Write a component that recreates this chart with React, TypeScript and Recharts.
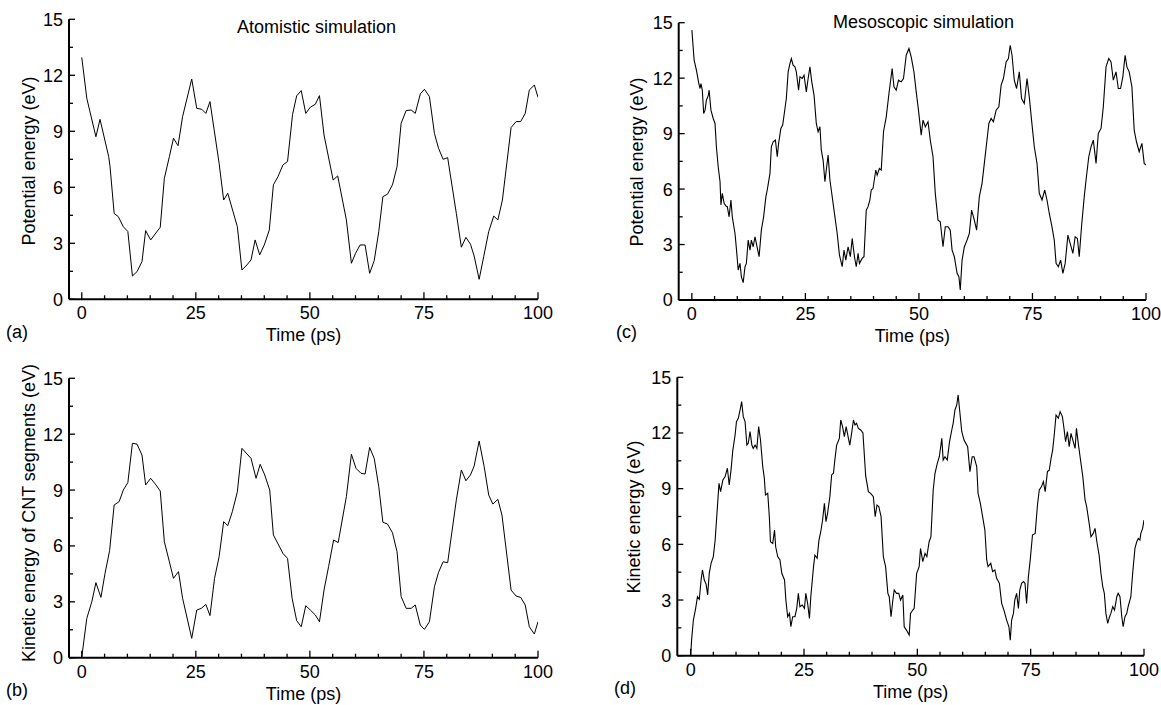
import React from 'react';
import { LineChart, Line, XAxis, YAxis } from 'recharts';

const FONT = '"Liberation Sans", Arial, Helvetica, sans-serif';

// ---------- tick values ----------
const xTicks = [0, 5, 10, 15, 20, 25, 30, 35, 40, 45, 50, 55, 60, 65, 70, 75, 80, 85, 90, 95, 100];
const xMajorTicks = [0, 25, 50, 75, 100];
const yTicks = [0, 1.5, 3, 4.5, 6, 7.5, 9, 10.5, 12, 13.5, 15];
const yMajorTicks = [0, 3, 6, 9, 12, 15];

// ---------- texts ----------
const titleAtomistic = 'Atomistic simulation';
const titleMesoscopic = 'Mesoscopic simulation';
const xLabel = 'Time (ps)';
const yLabelA = 'Potential energy (eV)';
const yLabelB = 'Kinetic energy of CNT segments (eV)';
const yLabelC = 'Potential energy (eV)';
const yLabelD = 'Kinetic energy (eV)';
const panelTags = ['(a)', '(b)', '(c)', '(d)'];

// ---------- (a) atomistic potential energy ----------
const aTime = [
  0, 1.1, 3.1, 4.0, 5.9, 6.2, 7.1, 8.0, 9.1, 10.1,
  11.1, 12.1, 13.2, 14.0, 15.1, 17.2, 18.1, 19.2, 20.1, 21.1,
  22.1, 24.1, 25.2, 26.3, 27.2, 28.1, 30.1, 31.1, 32.0, 34.1,
  35.1, 36.2, 37.1, 38.0, 39.0, 40.0, 41.1, 42.0, 43.0, 44.1,
  45.1, 46.2, 47.1, 48.1, 49.1, 50.1, 51.2, 52.1, 53.1, 55.1,
  56.1, 58.0, 59.1, 60.0, 61.0, 62.1, 63.1, 64.1, 65.1, 66.0,
  67.0, 68.1, 69.1, 70.0, 71.1, 72.2, 73.1, 74.2, 75.1, 76.2,
  77.3, 78.2, 79.2, 80.2, 82.1, 83.2, 84.2, 85.2, 86.0, 87.1,
  88.1, 89.2, 90.3, 91.2, 92.2, 94.1, 95.2, 96.2, 97.2, 98.1,
  99.2, 100,
];
const aPotential = [
  12.96, 10.77, 8.71, 9.64, 7.64, 7.1, 4.6, 4.43, 3.89, 3.63,
  1.25, 1.48, 2.02, 3.68, 3.18, 3.86, 6.48, 7.64, 8.63, 8.23,
  9.79, 11.8, 10.23, 10.18, 9.96, 10.59, 7.29, 5.32, 5.68, 3.89,
  1.57, 1.84, 2.11, 3.18, 2.38, 2.91, 3.71, 6.13, 6.57, 7.2,
  7.38, 9.9, 10.9, 11.18, 9.96, 10.29, 10.45, 10.91, 8.8, 6.39,
  6.61, 4.25, 1.93, 2.46, 2.91, 2.91, 1.39, 2.07, 3.63, 5.5,
  5.63, 6.13, 7.1, 9.43, 10.11, 10.14, 9.96, 11.0, 11.25, 10.86,
  8.89, 8.09, 7.5, 7.59, 4.6, 2.79, 3.32, 2.95, 2.32, 1.07,
  2.29, 3.63, 4.46, 4.25, 5.32, 9.2, 9.52, 9.52, 9.96, 11.21,
  11.48, 10.82,
];

// ---------- (b) atomistic kinetic energy ----------
const bTime = [
  0, 0.2, 1.1, 2.2, 3.1, 4.2, 5.1, 6.1, 7.1, 8.2,
  9.1, 10.1, 11.1, 12.1, 13.2, 14.0, 15.1, 16.1, 17.2, 18.1,
  19.2, 20.1, 21.2, 22.1, 24.1, 25.2, 26.2, 27.2, 28.1, 29.1,
  30.1, 31.1, 32.0, 33.0, 34.1, 35.1, 37.1, 38.2, 39.1, 40.1,
  41.2, 42.0, 44.1, 45.1, 46.1, 47.1, 48.1, 49.1, 50.1, 51.2,
  52.1, 53.1, 54.1, 55.2, 56.2, 58.0, 59.1, 60.1, 61.2, 62.1,
  63.1, 64.1, 65.1, 66.0, 67.0, 68.1, 69.1, 70.0, 71.1, 72.2,
  73.1, 74.2, 75.1, 76.2, 77.3, 78.2, 79.2, 80.2, 82.1, 83.2,
  84.2, 85.2, 86.0, 87.1, 88.2, 89.2, 90.1, 91.2, 92.1, 94.1,
  95.2, 96.2, 97.2, 98.1, 99.2, 100,
];
const bKinetic = [
  0, 0.41, 2.11, 3.0, 4.03, 3.24, 4.53, 5.75, 8.2, 8.38,
  9.0, 9.4, 11.51, 11.47, 10.88, 9.27, 9.63, 9.33, 8.95, 6.23,
  5.15, 4.26, 4.62, 3.19, 1.04, 2.56, 2.65, 2.86, 2.26, 4.26,
  5.42, 7.3, 7.09, 7.84, 8.91, 11.24, 10.7, 9.63, 10.38, 9.81,
  9.0, 6.59, 5.6, 5.33, 3.19, 1.99, 1.66, 2.79, 2.56, 2.29,
  1.93, 3.63, 4.89, 6.32, 6.18, 8.65, 10.92, 10.17, 9.9, 9.86,
  11.29, 10.7, 9.18, 7.27, 7.18, 6.71, 5.69, 3.28, 2.65, 2.65,
  2.83, 1.75, 1.52, 1.93, 3.81, 4.58, 5.15, 5.1, 8.47, 10.08,
  9.5, 9.81, 10.29, 11.63, 10.26, 8.73, 8.25, 8.5, 7.66, 3.63,
  3.31, 3.24, 2.83, 1.66, 1.27, 1.93,
];

// ---------- (c) mesoscopic potential energy ----------
const cTime = [
  0, 0.5, 1.0, 1.5, 1.8, 2.0, 2.3, 2.6, 2.9, 3.2,
  3.6, 3.8, 4.2, 4.7, 5.1, 5.4, 5.8, 6.2, 6.4, 6.7,
  7.1, 7.5, 7.8, 8.2, 8.6, 8.9, 9.5, 9.8, 10.2, 10.6,
  10.9, 11.3, 11.7, 12.0, 12.4, 12.8, 13.1, 13.5, 13.9, 14.2,
  14.8, 15.3, 15.8, 16.3, 16.6, 17.2, 17.5, 17.9, 18.4, 18.8,
  19.1, 19.6, 20.0, 20.5, 20.8, 21.2, 21.6, 21.9, 22.3, 22.7,
  23.0, 23.5, 23.8, 24.3, 24.7, 25.2, 25.6, 26.0, 26.4, 26.9,
  27.4, 27.8, 28.2, 28.5, 28.9, 29.3, 29.6, 30.0, 30.4, 30.7,
  31.1, 31.5, 32.0, 32.5, 33.1, 33.5, 33.9, 34.4, 34.9, 35.3,
  35.8, 36.2, 36.6, 36.9, 37.5, 37.9, 38.4, 38.8, 39.2, 39.5,
  39.9, 40.5, 40.8, 41.3, 41.7, 42.2, 42.8, 43.4, 44.1, 44.5,
  45.0, 45.5, 46.1, 46.6, 47.2, 47.8, 48.3, 48.9, 49.4, 49.9,
  50.5, 50.9, 51.4, 52.0, 52.5, 53.1, 53.6, 54.2, 54.7, 55.3,
  55.8, 56.4, 56.9, 57.3, 57.8, 58.4, 58.8, 59.1, 59.5, 60.0,
  60.6, 61.1, 61.6, 62.2, 62.7, 63.3, 63.9, 64.4, 64.9, 65.4,
  65.9, 66.4, 67.0, 67.6, 68.1, 68.6, 69.2, 69.7, 70.1, 70.5,
  71.0, 71.5, 72.1, 72.6, 73.2, 73.8, 74.3, 74.8, 75.4, 76.0,
  76.5, 77.1, 77.7, 78.2, 78.7, 79.3, 79.8, 80.2, 80.7, 81.2,
  81.7, 82.2, 82.8, 83.3, 83.9, 84.4, 84.9, 85.3, 85.8, 86.4,
  86.8, 87.4, 87.9, 88.4, 89.0, 89.5, 90.1, 90.6, 91.2, 91.8,
  92.3, 92.8, 93.4, 93.9, 94.4, 94.9, 95.4, 95.8, 96.3, 96.9,
  97.4, 97.9, 98.5, 99.1, 99.6, 100,
];
const cPotential = [
  14.6, 12.97, 12.43, 11.75, 11.44, 11.7, 11.35, 10.09, 10.27, 10.81,
  11.05, 11.35, 10.27, 9.82, 9.55, 8.29, 7.21, 6.4, 5.14, 5.77,
  5.23, 5.08, 5.05, 4.5, 5.41, 4.5, 3.6, 2.79, 1.62, 1.98,
  1.26, 0.94, 1.8, 1.98, 3.24, 2.7, 3.24, 2.88, 3.42, 3.06,
  2.34, 3.78, 4.5, 5.59, 5.95, 6.85, 8.29, 8.56, 8.65, 7.75,
  8.47, 9.28, 9.46, 10.36, 10.9, 12.34, 12.79, 13.06, 12.7, 12.61,
  12.34, 11.35, 12.07, 11.98, 12.16, 11.26, 11.98, 12.61, 11.8, 11.08,
  9.55, 9.1, 9.37, 8.11, 7.57, 6.4, 7.03, 7.84, 6.49, 5.95,
  5.23, 4.5, 3.6, 2.43, 1.8, 2.7, 2.16, 2.88, 2.34, 3.33,
  2.34, 1.8, 2.52, 1.98, 2.25, 2.34, 4.86, 5.05, 5.41, 5.95,
  6.04, 7.03, 6.76, 7.12, 7.03, 9.1, 9.91, 11.17, 12.52, 11.53,
  11.35, 11.89, 11.8, 11.98, 13.24, 13.6, 13.15, 12.34, 11.26, 10.27,
  8.92, 9.73, 9.37, 9.64, 8.65, 7.75, 5.77, 4.32, 4.23, 2.88,
  3.96, 3.96, 3.78, 2.7, 2.34, 1.44, 1.26, 0.54, 2.16, 2.88,
  3.24, 3.6, 4.86, 4.32, 3.78, 5.59, 6.31, 7.39, 8.47, 9.55,
  9.82, 9.64, 10.27, 10.45, 11.62, 11.98, 12.88, 13.06, 13.78, 13.24,
  11.89, 11.44, 12.34, 10.9, 10.63, 11.98, 10.99, 9.73, 8.29, 7.39,
  5.77, 5.41, 5.95, 5.41, 4.68, 3.96, 3.24, 1.98, 1.8, 2.16,
  1.44, 1.98, 3.51, 3.06, 2.52, 3.42, 3.33, 2.34, 3.96, 5.59,
  6.49, 7.75, 8.29, 8.65, 7.39, 9.01, 9.28, 10.45, 12.61, 13.06,
  12.88, 11.89, 12.34, 11.44, 11.44, 12.07, 13.24, 12.61, 12.34, 11.53,
  9.19, 8.56, 8.02, 8.47, 7.39, 7.3,
];

// ---------- (d) mesoscopic kinetic energy ----------
const dTime = [
  0, 0.2, 0.6, 1.1, 1.5, 1.9, 2.3, 2.6, 3.0, 3.4,
  3.75, 4.1, 4.5, 5.0, 5.4, 5.7, 6.25, 6.6, 7.1, 7.6,
  8.1, 8.5, 8.9, 9.3, 9.8, 10.1, 10.5, 10.9, 11.25, 11.6,
  12.0, 12.4, 12.7, 13.1, 13.5, 13.8, 14.2, 14.6, 15.0, 15.4,
  15.9, 16.25, 16.5, 17.0, 17.35, 17.6, 18.1, 18.5, 18.75, 19.2,
  19.7, 20.1, 20.7, 21.0, 21.4, 21.8, 22.1, 22.5, 23.0, 23.4,
  23.75, 24.1, 24.6, 25.1, 25.4, 25.8, 26.2, 26.5, 27.1, 27.4,
  27.9, 28.3, 28.7, 29.1, 29.5, 29.85, 30.2, 30.7, 31.1, 31.5,
  31.8, 32.2, 32.8, 33.1, 33.5, 33.9, 34.3, 34.8, 35.1, 35.5,
  35.9, 36.25, 36.6, 37.0, 37.5, 38.0, 38.6, 39.2, 39.7, 40.3,
  40.7, 41.1, 41.5, 42.0, 42.5, 43.0, 43.5, 43.8, 44.2, 44.6,
  44.9, 45.4, 45.9, 46.3, 46.8, 47.1, 47.6, 48.2, 48.5, 49.0,
  49.3, 49.85, 50.4, 50.7, 51.2, 51.7, 52.1, 52.6, 53.0, 53.5,
  53.9, 54.4, 54.85, 55.4, 55.7, 56.1, 56.6, 57.1, 57.6, 57.9,
  58.3, 58.7, 59.0, 59.4, 59.8, 60.3, 60.7, 61.1, 61.6, 62.1,
  62.5, 63.1, 63.4, 63.9, 64.4, 64.9, 65.3, 65.6, 66.2, 66.6,
  67.1, 67.5, 68.1, 68.6, 69.1, 69.7, 70.2, 70.5, 70.8, 71.2,
  71.5, 71.9, 72.3, 72.6, 73.0, 73.4, 73.75, 74.1, 74.5, 74.9,
  75.4, 76.0, 76.5, 76.9, 77.4, 77.8, 78.2, 78.7, 79.1, 79.5,
  79.85, 80.2, 80.6, 81.1, 81.5, 82.0, 82.35, 82.7, 83.1, 83.5,
  83.9, 84.3, 84.8, 85.1, 85.5, 85.9, 86.5, 87.0, 87.35, 87.9,
  88.3, 88.8, 89.2, 89.6, 90.1, 90.5, 90.9, 91.25, 91.6, 92.0,
  92.4, 92.7, 93.1, 93.5, 94.0, 94.3, 94.7, 95.1, 95.4, 95.8,
  96.2, 96.5, 97.1, 97.5, 98.0, 98.4, 98.75, 99.1, 99.3, 99.7,
  100,
];
const dKinetic = [
  0, 0.84, 1.92, 2.55, 3.18, 3.04, 4.08, 4.62, 4.08, 3.86,
  3.27, 4.44, 4.98, 5.34, 6.23, 7.31, 9.29, 8.84, 9.47, 9.65,
  10.1, 9.2, 10.0, 11.08, 11.89, 12.61, 12.79, 13.24, 13.69, 12.88,
  12.61, 11.35, 11.44, 12.07, 11.35, 11.17, 11.35, 11.17, 12.34, 11.62,
  10.19, 9.56, 8.66, 8.75, 7.49, 6.14, 6.05, 6.77, 5.87, 5.34,
  5.16, 4.44, 4.08, 3.0, 2.1, 2.28, 1.56, 2.1, 2.1, 2.55,
  3.36, 2.64, 2.73, 2.55, 3.36, 2.82, 2.01, 3.18, 4.8, 5.42,
  5.25, 6.23, 6.68, 7.31, 8.21, 7.22, 7.67, 8.57, 9.74, 9.83,
  10.54, 11.35, 11.71, 12.7, 12.34, 11.8, 12.34, 11.71, 11.35, 11.98,
  12.7, 12.43, 12.52, 12.25, 12.16, 12.0, 9.7, 8.84, 8.75, 8.57,
  7.49, 8.12, 8.03, 7.49, 5.34, 4.8, 3.36, 3.18, 2.1, 3.0,
  3.54, 3.36, 3.36, 3.0, 3.27, 1.56, 1.38, 1.11, 2.28, 2.46,
  2.55, 4.44, 4.8, 5.78, 5.07, 5.51, 5.34, 6.14, 6.41, 8.93,
  9.83, 10.36, 10.72, 11.71, 10.54, 10.72, 10.54, 11.53, 12.16, 12.52,
  13.24, 13.51, 14.05, 13.06, 12.07, 11.62, 11.44, 11.26, 9.92, 10.72,
  10.72, 10.19, 8.75, 8.21, 7.49, 6.77, 5.16, 4.8, 4.98, 4.53,
  4.62, 4.17, 3.9, 2.82, 2.46, 1.92, 1.56, 0.84, 1.92, 2.28,
  3.0, 3.36, 2.55, 3.54, 3.9, 3.99, 3.9, 2.82, 4.26, 5.16,
  6.5, 6.59, 8.12, 8.93, 9.11, 9.38, 8.84, 9.92, 10.0, 10.63,
  11.08, 11.89, 12.97, 12.79, 13.15, 12.88, 12.25, 11.53, 12.07, 11.26,
  11.98, 11.62, 11.17, 12.25, 11.44, 10.72, 9.65, 8.39, 8.03, 7.13,
  6.41, 6.59, 6.86, 6.14, 5.42, 4.44, 3.72, 3.36, 2.28, 1.74,
  2.1, 2.28, 2.64, 2.46, 3.18, 3.36, 3.18, 2.1, 1.56, 2.1,
  2.28, 2.64, 3.18, 4.44, 5.78, 6.14, 6.32, 6.23, 6.59, 6.86,
  7.31,
];

const TICK_FONT = 18;

const XTick = (props: any) => {
  const { x, y, payload } = props;
  const v = payload.value as number;
  const major = xMajorTicks.includes(v);
  return (
    <g>
      <line x1={x} x2={x} y1={y} y2={y - (major ? 7 : 4)} stroke="#000" strokeWidth={1.3} />
      {major && (
        <text x={x} y={y + 20} textAnchor="middle" fontSize={TICK_FONT} fontFamily={FONT} fill="#000">
          {v}
        </text>
      )}
    </g>
  );
};

const YTick = (props: any) => {
  const { x, y, payload } = props;
  const v = payload.value as number;
  const major = yMajorTicks.includes(v);
  return (
    <g>
      <line x1={x} x2={x + (major ? 6 : 4)} y1={y} y2={y} stroke="#000" strokeWidth={1.3} />
      {major && (
        <text x={x - 6} y={y} dy="0.36em" textAnchor="end" fontSize={TICK_FONT} fontFamily={FONT} fill="#000">
          {v}
        </text>
      )}
    </g>
  );
};

type PanelProps = {
  left: number;
  top: number;
  width: number;
  height: number;
  time: number[];
  values: number[];
  xMin: number;
  margin: { top: number; right: number; bottom: number; left: number };
  lineWidth: number;
};

function Panel({ left, top, width, height, time, values, xMin, margin, lineWidth }: PanelProps) {
  const data = time.map((t, i) => ({ t, v: values[i] }));
  return (
    <div style={{ position: 'absolute', left, top, width, height }}>
      <LineChart width={width} height={height} data={data} margin={margin}>
        <XAxis
          dataKey="t"
          type="number"
          domain={[xMin, 100]}
          ticks={xTicks}
          interval={0}
          allowDataOverflow
          tickSize={0}
          tickMargin={0}
          tickLine={false}
          axisLine={{ stroke: '#000', strokeWidth: 2 }}
          tick={(p: any) => <XTick {...p} />}
          height={30}
        />
        <YAxis
          type="number"
          domain={[0, 15]}
          ticks={yTicks}
          interval={0}
          allowDataOverflow
          tickSize={0}
          tickMargin={0}
          tickLine={false}
          axisLine={{ stroke: '#000', strokeWidth: 2 }}
          tick={(p: any) => <YTick {...p} />}
          width={40}
        />
        <Line
          type="linear"
          dataKey="v"
          stroke="#000"
          strokeWidth={lineWidth}
          dot={false}
          isAnimationActive={false}
        />
      </LineChart>
    </div>
  );
}

export default function App() {
  const txt = { fontFamily: FONT, fontSize: 18, fill: '#000' } as const;
  return (
    <div style={{ position: 'absolute', left: 0, top: 0, width: 1161, height: 705, background: '#fff', overflow: 'hidden' }}>
      <Panel left={0} top={0} width={580} height={350} time={aTime} values={aPotential} xMin={-2.8}
        margin={{ top: 19.3, right: 42, bottom: 20.7, left: 29 }} lineWidth={1} />
      <Panel left={0} top={360} width={580} height={345} time={bTime} values={bKinetic} xMin={-2.8}
        margin={{ top: 18.3, right: 42, bottom: 17.3, left: 29 }} lineWidth={1} />
      <Panel left={600} top={0} width={561} height={350} time={cTime} values={cPotential} xMin={-2.9}
        margin={{ top: 22.7, right: 15, bottom: 20, left: 38.7 }} lineWidth={1.1} />
      <Panel left={600} top={360} width={561} height={345} time={dTime} values={dKinetic} xMin={-2.95}
        margin={{ top: 17.3, right: 17, bottom: 19.3, left: 37.3 }} lineWidth={1.1} />
      <svg width={1161} height={705} style={{ position: 'absolute', left: 0, top: 0, pointerEvents: 'none' }}>
        <text x={316.5} y={33} textAnchor="middle" {...txt}>{titleAtomistic}</text>
        <text x={923.5} y={27.5} textAnchor="middle" {...txt}>{titleMesoscopic}</text>

        <text x={303.5} y={341} textAnchor="middle" {...txt}>{xLabel}</text>
        <text x={303.5} y={699.5} textAnchor="middle" {...txt}>{xLabel}</text>
        <text x={912.4} y={342} textAnchor="middle" {...txt}>{xLabel}</text>
        <text x={910.7} y={697.7} textAnchor="middle" {...txt}>{xLabel}</text>

        <text x={6} y={337.5} {...txt}>{panelTags[0]}</text>
        <text x={6} y={696} {...txt}>{panelTags[1]}</text>
        <text x={616} y={338} {...txt}>{panelTags[2]}</text>
        <text x={614} y={694} {...txt}>{panelTags[3]}</text>

        <text x={29} y={161} textAnchor="middle" dominantBaseline="central" transform="rotate(-90, 29, 161)" {...txt}>{yLabelA}</text>
        <text x={29} y={513} textAnchor="middle" dominantBaseline="central" transform="rotate(-90, 29, 513)" {...txt}>{yLabelB}</text>
        <text x={637} y={162} textAnchor="middle" dominantBaseline="central" transform="rotate(-90, 637, 162)" {...txt}>{yLabelC}</text>
        <text x={634} y={517} textAnchor="middle" dominantBaseline="central" transform="rotate(-90, 634, 517)" {...txt}>{yLabelD}</text>
      </svg>
    </div>
  );
}
